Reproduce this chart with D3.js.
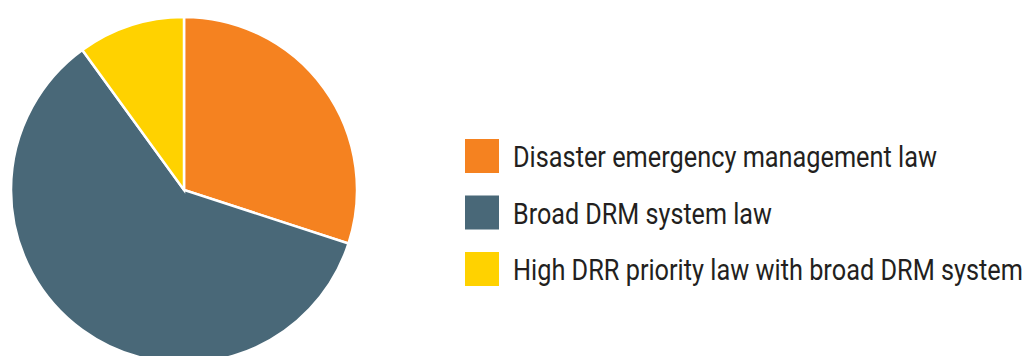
<!DOCTYPE html>
<html>
<head>
<meta charset="utf-8">
<script src="https://cdn.jsdelivr.net/npm/d3@7"></script>
<style>
  body { margin: 0; background: #fff; }
  svg { display: block; }
</style>
</head>
<body>
<svg id="chart" width="1029" height="356"></svg>
<script>
const categories = ['Disaster emergency management law', 'Broad DRM system law', 'High DRR priority law with broad DRM system'];
const shares = [30, 60, 10];
const colors = ['#F58220', '#496878', '#FFD200'];
// widths of legend labels as printed (condensed face)
const labelWidths = [424, 259, 510];

const width = 1029, height = 356;
const cx = 184, cy = 190, radius = 173;

const svg = d3.select('#chart');

const pie = d3.pie().sort(null).value(d => d.value);
const arc = d3.arc().innerRadius(0).outerRadius(radius);

const data = categories.map((c, i) => ({ name: c, value: shares[i], color: colors[i], w: labelWidths[i] }));

svg.append('g')
    .attr('transform', `translate(${cx},${cy})`)
    .selectAll('path')
    .data(pie(data))
    .enter().append('path')
    .attr('d', arc)
    .attr('fill', d => d.data.color)
    .attr('stroke', '#fff')
    .attr('stroke-width', 2.5);

// Legend
const y = d3.scalePoint().domain(categories).range([156, 269]);

const rows = svg.append('g').selectAll('g')
    .data(data)
    .enter().append('g')
    .attr('transform', d => `translate(465,${y(d.name)})`);

rows.append('rect')
    .attr('x', 0)
    .attr('y', -17)
    .attr('width', 34)
    .attr('height', 34)
    .attr('fill', d => d.color);

// no condensed font available, so squeeze Roboto horizontally
rows.append('text')
    .attr('font-family', 'Roboto, "Liberation Sans", sans-serif')
    .attr('font-size', 30)
    .attr('fill', '#231f20')
    .text(d => d.name)
    .attr('transform', function(d) {
        const k = d.w / this.getComputedTextLength();
        return `translate(48,11) scale(${k},1)`;
    });
</script>
</body>
</html>
